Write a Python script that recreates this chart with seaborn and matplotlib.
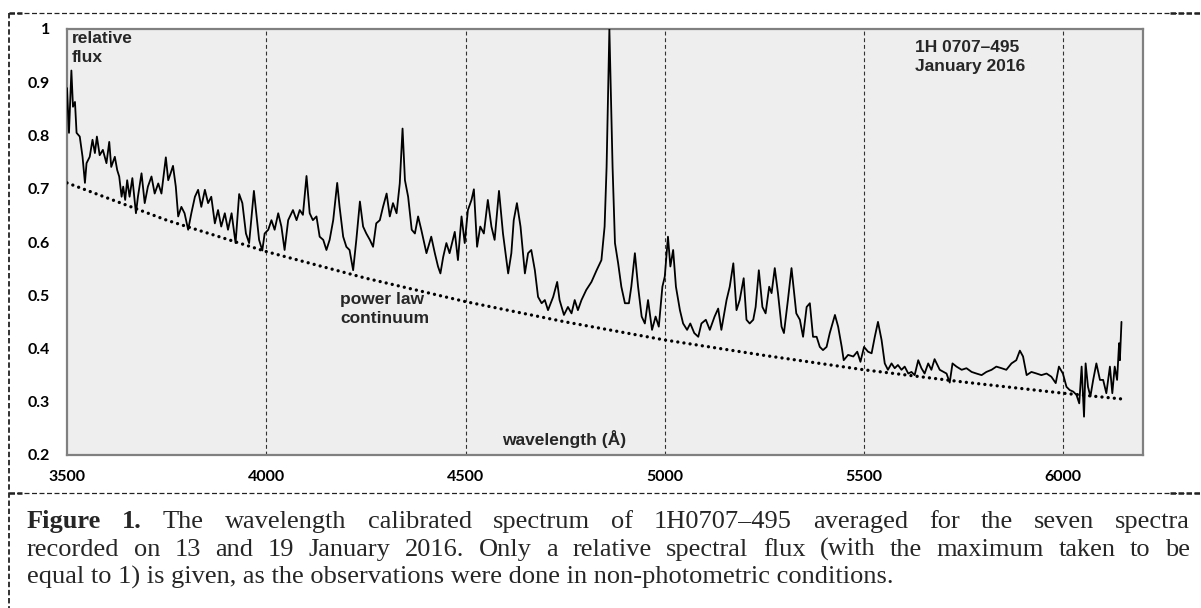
import matplotlib
matplotlib.use("Agg")
import matplotlib.pyplot as plt
import seaborn as sns
import pandas as pd
from matplotlib.lines import Line2D

# ---------------- data ----------------
wavelength = [
    3500, 3505, 3511, 3515, 3520, 3524, 3532, 3539, 3545, 3549, 3557, 3564, 3570, 3575, 3582, 3590,
    3599, 3606, 3611, 3620, 3626, 3631, 3637, 3641, 3646, 3651, 3657, 3664, 3673, 3678, 3687, 3695,
    3703, 3712, 3720, 3729, 3737, 3748, 3754, 3760, 3766, 3773, 3779, 3787, 3795, 3804, 3812, 3821,
    3829, 3837, 3846, 3854, 3862, 3871, 3879, 3887, 3896, 3904, 3913, 3923, 3932, 3940, 3949, 3957,
    3969, 3975, 3982, 3990, 3996, 4005, 4013, 4021, 4030, 4038, 4046, 4055, 4067, 4076, 4084, 4092,
    4101, 4109, 4117, 4126, 4134, 4143, 4151, 4159, 4168, 4178, 4184, 4193, 4201, 4209, 4218, 4226,
    4235, 4243, 4251, 4260, 4268, 4276, 4285, 4293, 4302, 4310, 4318, 4327, 4335, 4342, 4348, 4356,
    4365, 4373, 4381, 4389, 4402, 4414, 4423, 4431, 4437, 4444, 4452, 4460, 4473, 4481, 4490, 4498,
    4506, 4515, 4521, 4529, 4537, 4546, 4556, 4565, 4573, 4584, 4594, 4607, 4615, 4621, 4629, 4638,
    4649, 4657, 4665, 4674, 4682, 4691, 4699, 4707, 4720, 4730, 4736, 4747, 4757, 4766, 4774, 4782,
    4791, 4803, 4816, 4829, 4841, 4849, 4854, 4861, 4869, 4875, 4883, 4891, 4900, 4910, 4916, 4925,
    4933, 4942, 4950, 4958, 4968, 4977, 4985, 4994, 5000, 5008, 5014, 5021, 5028, 5038, 5046, 5056,
    5064, 5074, 5084, 5092, 5103, 5113, 5125, 5134, 5142, 5155, 5163, 5172, 5180, 5188, 5198, 5205,
    5213, 5222, 5228, 5236, 5245, 5253, 5262, 5268, 5276, 5284, 5293, 5299, 5309, 5318, 5330, 5339,
    5347, 5356, 5364, 5372, 5381, 5389, 5397, 5406, 5414, 5427, 5435, 5444, 5449, 5460, 5473, 5483,
    5491, 5500, 5510, 5519, 5527, 5535, 5544, 5552, 5560, 5569, 5577, 5585, 5594, 5602, 5611, 5619,
    5627, 5636, 5644, 5652, 5661, 5669, 5677, 5690, 5707, 5715, 5722, 5732, 5745, 5757, 5770, 5782,
    5795, 5807, 5820, 5832, 5845, 5857, 5870, 5882, 5891, 5899, 5908, 5920, 5933, 5945, 5958, 5970,
    5981, 5989, 5999, 6008, 6016, 6025, 6033, 6040, 6046, 6052, 6056, 6062, 6068, 6075, 6083, 6092,
    6100, 6108, 6117, 6123, 6129, 6135, 6140, 6142, 6146,
]
flux = [
    0.889, 0.805, 0.922, 0.854, 0.863, 0.805, 0.798, 0.760, 0.711, 0.748, 0.760, 0.792, 0.767, 0.798, 0.763, 0.773,
    0.748, 0.788, 0.741, 0.760, 0.735, 0.723, 0.685, 0.704, 0.679, 0.716, 0.685, 0.720, 0.654, 0.685, 0.729, 0.673,
    0.704, 0.723, 0.691, 0.710, 0.691, 0.759, 0.716, 0.729, 0.743, 0.704, 0.648, 0.666, 0.654, 0.623, 0.654, 0.685,
    0.698, 0.666, 0.698, 0.673, 0.685, 0.635, 0.660, 0.629, 0.654, 0.623, 0.654, 0.598, 0.690, 0.673, 0.616, 0.598,
    0.696, 0.654, 0.604, 0.584, 0.616, 0.623, 0.641, 0.623, 0.654, 0.629, 0.585, 0.641, 0.660, 0.641, 0.660, 0.651,
    0.724, 0.654, 0.641, 0.648, 0.610, 0.604, 0.585, 0.604, 0.641, 0.711, 0.666, 0.610, 0.591, 0.585, 0.547, 0.604,
    0.676, 0.629, 0.616, 0.604, 0.591, 0.635, 0.641, 0.666, 0.691, 0.648, 0.673, 0.654, 0.710, 0.813, 0.716, 0.685,
    0.623, 0.616, 0.648, 0.623, 0.579, 0.610, 0.579, 0.554, 0.541, 0.572, 0.598, 0.579, 0.619, 0.566, 0.648, 0.598,
    0.660, 0.679, 0.699, 0.591, 0.629, 0.616, 0.679, 0.629, 0.604, 0.696, 0.616, 0.541, 0.579, 0.641, 0.673, 0.629,
    0.541, 0.579, 0.585, 0.547, 0.497, 0.485, 0.491, 0.472, 0.497, 0.525, 0.491, 0.463, 0.478, 0.466, 0.491, 0.472,
    0.491, 0.510, 0.525, 0.547, 0.566, 0.629, 0.741, 1.000, 0.741, 0.598, 0.560, 0.516, 0.485, 0.485, 0.516, 0.579,
    0.516, 0.460, 0.447, 0.491, 0.435, 0.460, 0.441, 0.516, 0.535, 0.610, 0.554, 0.585, 0.516, 0.472, 0.447, 0.435,
    0.447, 0.429, 0.422, 0.447, 0.454, 0.435, 0.460, 0.475, 0.435, 0.491, 0.516, 0.560, 0.472, 0.491, 0.532, 0.454,
    0.447, 0.454, 0.478, 0.547, 0.478, 0.466, 0.516, 0.504, 0.551, 0.504, 0.441, 0.429, 0.491, 0.551, 0.466, 0.454,
    0.422, 0.478, 0.485, 0.422, 0.422, 0.403, 0.397, 0.403, 0.429, 0.463, 0.441, 0.403, 0.378, 0.388, 0.385, 0.394,
    0.375, 0.403, 0.394, 0.391, 0.422, 0.450, 0.416, 0.372, 0.360, 0.372, 0.363, 0.369, 0.360, 0.366, 0.353, 0.356,
    0.350, 0.378, 0.363, 0.353, 0.372, 0.360, 0.380, 0.360, 0.353, 0.336, 0.372, 0.366, 0.360, 0.363, 0.356, 0.353,
    0.350, 0.356, 0.360, 0.366, 0.363, 0.360, 0.372, 0.378, 0.396, 0.385, 0.350, 0.356, 0.353, 0.350, 0.353, 0.347,
    0.335, 0.366, 0.353, 0.328, 0.322, 0.319, 0.313, 0.297, 0.366, 0.272, 0.372, 0.328, 0.310, 0.341, 0.372, 0.341,
    0.341, 0.316, 0.366, 0.316, 0.366, 0.341, 0.410, 0.378, 0.450,
]
powerlaw_wavelength = [3500, 3750, 4000, 4250, 4500, 4750, 5000, 5250, 5500, 5750, 6000, 6150]
powerlaw_flux = [0.711, 0.641, 0.582, 0.532, 0.488, 0.450, 0.416, 0.387, 0.360, 0.337, 0.316, 0.305]

x_ticks = [3500, 4000, 4500, 5000, 5500, 6000]
x_tick_labels = ["3500", "4000", "4500", "5000", "5500", "6000"]
y_ticks = [0.2, 0.3, 0.4, 0.5, 0.6, 0.7, 0.8, 0.9, 1.0]
y_tick_labels = ["0.2", "0.3", "0.4", "0.5", "0.6", "0.7", "0.8", "0.9", "1"]

label_flux = "relative\nflux"
label_object = "1H 0707\u2013495\nJanuary 2016"
label_powerlaw = "power law\ncontinuum"
label_wavelength = "wavelength (\u00c5)"

caption_line1 = [("Figure", "bold"), ("1.", "bold"), ("The", "normal"), ("wavelength", "normal"),
                 ("calibrated", "normal"), ("spectrum", "normal"), ("of", "normal"),
                 ("1H0707\u2013495", "normal"), ("averaged", "normal"), ("for", "normal"),
                 ("the", "normal"), ("seven", "normal"), ("spectra", "normal")]
caption_line2 = "recorded on 13 and 19 January 2016. Only a relative spectral flux (with the maximum taken to be"
caption_line3 = "equal to 1) is given, as the observations were done in non-photometric conditions."

# ---------------- style ----------------
sns.set_style("white")
plt.rcParams["font.family"] = ["Liberation Sans", "DejaVu Sans"]

W, H = 1201, 608
fig = plt.figure(figsize=(W / 100, H / 100), dpi=100)
fig.patch.set_facecolor("white")

AX_L, AX_R, AX_T, AX_B = 67, 1143, 29, 455
ax = fig.add_axes([AX_L / W, 1 - AX_B / H, (AX_R - AX_L) / W, (AX_B - AX_T) / H])
ax.set_facecolor("#eeeeee")

spec = pd.DataFrame({"wavelength": wavelength, "flux": flux})
plaw = pd.DataFrame({"wavelength": powerlaw_wavelength, "flux": powerlaw_flux})

sns.lineplot(data=plaw, x="wavelength", y="flux", ax=ax, color="black", linewidth=2.4,
             linestyle=(0, (0.01, 1.85)), dash_capstyle="round", estimator=None, zorder=3)
sns.lineplot(data=spec, x="wavelength", y="flux", ax=ax, color="black", linewidth=1.3,
             estimator=None, zorder=4)

ax.set_xlim(3500, 6200)
ax.set_ylim(0.2, 1.0)
ax.set_xticks(x_ticks)
ax.set_xticklabels(x_tick_labels)
ax.set_yticks(y_ticks)
ax.set_yticklabels(y_tick_labels)
ax.set_xlabel("")
ax.set_ylabel("")
ax.tick_params(axis="both", length=0)
ax.tick_params(axis="x", pad=11)
ax.tick_params(axis="y", pad=12)
for lab in ax.get_xticklabels() + ax.get_yticklabels():
    lab.set_fontfamily(["Lato", "DejaVu Sans"])
    lab.set_fontweight("bold")
    lab.set_fontsize(11.5)
    lab.set_color("black")

ax.grid(False)
for xv in x_ticks[1:]:
    ax.axvline(xv, color="#333333", linewidth=0.8, linestyle=(0, (3.5, 2.5)), zorder=2)

for sp in ax.spines.values():
    sp.set_color("#808080")
    sp.set_linewidth(1.6)
    sp.set_visible(True)


def axpos(px, py):
    return ((px - AX_L) / (AX_R - AX_L), (AX_B - py) / (AX_B - AX_T))


ann = dict(fontsize=12.5, fontweight="bold", family=["Liberation Sans", "DejaVu Sans"],
           ha="left", va="top", transform=ax.transAxes, linespacing=1.3, zorder=5)
ax.text(*axpos(72, 31), label_flux, **ann)
ax.text(*axpos(915, 40), label_object, **ann)
ax.text(*axpos(340, 292), label_powerlaw, **ann)
ax.text(*axpos(502, 430), label_wavelength, **ann)

# ---------------- dashed frame ----------------
def fline(x0, y0, x1, y1, lw=0.9, ls=(0, (4, 2)), color="#222222"):
    fig.add_artist(Line2D([x0 / W, x1 / W], [1 - y0 / H, 1 - y1 / H], transform=fig.transFigure,
                          color=color, linewidth=lw, linestyle=ls))

fline(9, 13, 1201, 13)
fline(9, 493, 1201, 493)
fline(9, 13, 9, 608, lw=1.3, ls=(0, (3, 1.5)))
fline(1170, 13, 1201, 13, lw=1.8, ls=(0, (2.2, 1)))
fline(1170, 493, 1201, 493, lw=1.8, ls=(0, (2.2, 1)))
fline(9, 13, 22, 13, lw=1.8, ls=(0, (2.2, 1)))
fline(9, 493, 22, 493, lw=1.8, ls=(0, (2.2, 1)))

# ---------------- caption ----------------
SERIF = ["Liberation Serif", "DejaVu Serif"]
fig.canvas.draw()
rend = fig.canvas.get_renderer()


def text_w(s, weight, fs):
    t = fig.text(0, 0, s, fontsize=fs, family=SERIF, fontweight=weight)
    w = t.get_window_extent(rend).width
    t.remove()
    return w


CAP_X0, CAP_X1 = 27, 1190
cap_fs = 19


def place_justified(words, baseline, fs):
    widths = [text_w(w, wt, fs) for w, wt in words]
    gap = (CAP_X1 - CAP_X0 - sum(widths)) / (len(words) - 1)
    x = CAP_X0
    for (w, wt), wd in zip(words, widths):
        fig.text(x / W, 1 - baseline / H, w, fontsize=fs, family=SERIF, fontweight=wt,
                 ha="left", va="baseline")
        x += wd + gap


place_justified(caption_line1, 528, cap_fs)
place_justified([(w, "normal") for w in caption_line2.split(" ")], 556, cap_fs)
fig.text(CAP_X0 / W, 1 - 584 / H, caption_line3, fontsize=cap_fs, family=SERIF,
         ha="left", va="baseline")

fig.savefig("out.png", dpi=100, facecolor="white")
